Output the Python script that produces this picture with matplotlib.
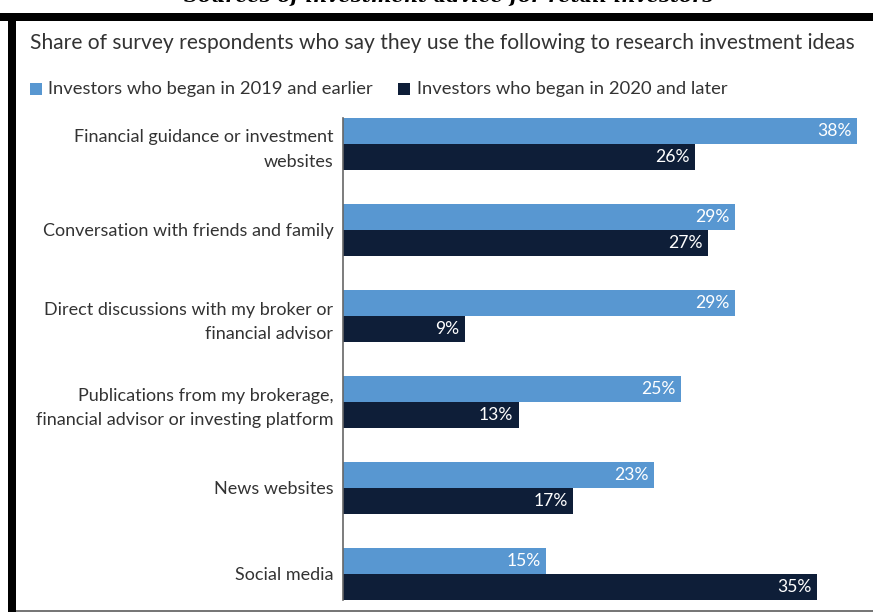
import matplotlib
matplotlib.use("Agg")
import matplotlib.pyplot as plt
from matplotlib.patches import Rectangle

categories = [
    "Financial guidance or investment\nwebsites",
    "Conversation with friends and family",
    "Direct discussions with my broker or\nfinancial advisor",
    "Publications from my brokerage,\nfinancial advisor or investing platform",
    "News websites",
    "Social media",
]
early = [38, 29, 29, 25, 23, 15]
late = [26, 27, 9, 13, 17, 35]
series_names = ["Investors who began in 2019 and earlier", "Investors who began in 2020 and later"]
title = "Share of survey respondents who say they use the following to research investment ideas"
top_title = "Sources of investment advice for retail investors"

C_LIGHT = "#5897d1"
C_DARK = "#0e1e38"
TXT = "#333333"
FONT = "Lato"

W, H = 873, 612
fig = plt.figure(figsize=(W / 100, H / 100), dpi=100)
fig.patch.set_facecolor("white")

def fx(px):
    return px / W

def fy(py):
    return 1 - py / H

# screenshot frame
fig.add_artist(Rectangle((fx(0), fy(21)), 1, 8 / H, transform=fig.transFigure, color="black", lw=0))
fig.add_artist(Rectangle((fx(8), 0), 8 / W, fy(13), transform=fig.transFigure, color="black", lw=0))
fig.add_artist(Rectangle((fx(16), 0), 1, 2 / H, transform=fig.transFigure, color="#777777", lw=0))
fig.text(fx(449), fy(2.5), top_title, family="DejaVu Serif", style="italic", weight="bold",
         fontsize=14, color="black", ha="center", va="baseline")

fig.text(fx(30), fy(43), title, family=FONT, fontsize=15.1, color=TXT, ha="left", va="center")

# legend
fig.add_artist(Rectangle((fx(30), fy(95)), 12 / W, 12 / H, transform=fig.transFigure, color=C_LIGHT, lw=0))
fig.text(fx(48), fy(89), series_names[0], family=FONT, fontsize=13.2, color=TXT, ha="left", va="center")
fig.add_artist(Rectangle((fx(398), fy(95)), 12 / W, 12 / H, transform=fig.transFigure, color=C_DARK, lw=0))
fig.text(fx(417), fy(89), series_names[1], family=FONT, fontsize=13.2, color=TXT, ha="left", va="center")

# axes
bh = 26 / 86
ax = fig.add_axes([fx(343), 12 / H, (W - 343) / W, 482 / H])
ax.set_xlim(0, (W - 343) / 13.53)
ax.set_ylim(len(categories) - 1 + bh, -bh)
ys = list(range(len(categories)))
ax.barh([y - bh / 2 for y in ys], early, height=bh, color=C_LIGHT, lw=0)
ax.barh([y + bh / 2 for y in ys], late, height=bh, color=C_DARK, lw=0)
for y, a, b in zip(ys, early, late):
    ax.text(a - 0.4, y - bh / 2, f"{a}%", color="white", family=FONT, fontsize=12.6,
            ha="right", va="center")
    ax.text(b - 0.4, y + bh / 2, f"{b}%", color="white", family=FONT, fontsize=12.6,
            ha="right", va="center")
ax.set_yticks(ys)
ax.set_yticklabels(categories, family=FONT, fontsize=13, color=TXT, linespacing=1.62)
ax.tick_params(axis="y", length=0, pad=7)
ax.set_xticks([])
for s in ["top", "right", "bottom"]:
    ax.spines[s].set_visible(False)
ax.spines["left"].set_color("#666666")
ax.spines["left"].set_linewidth(1.2)
ax.set_facecolor("none")

fig.savefig("out.png", dpi=100)
